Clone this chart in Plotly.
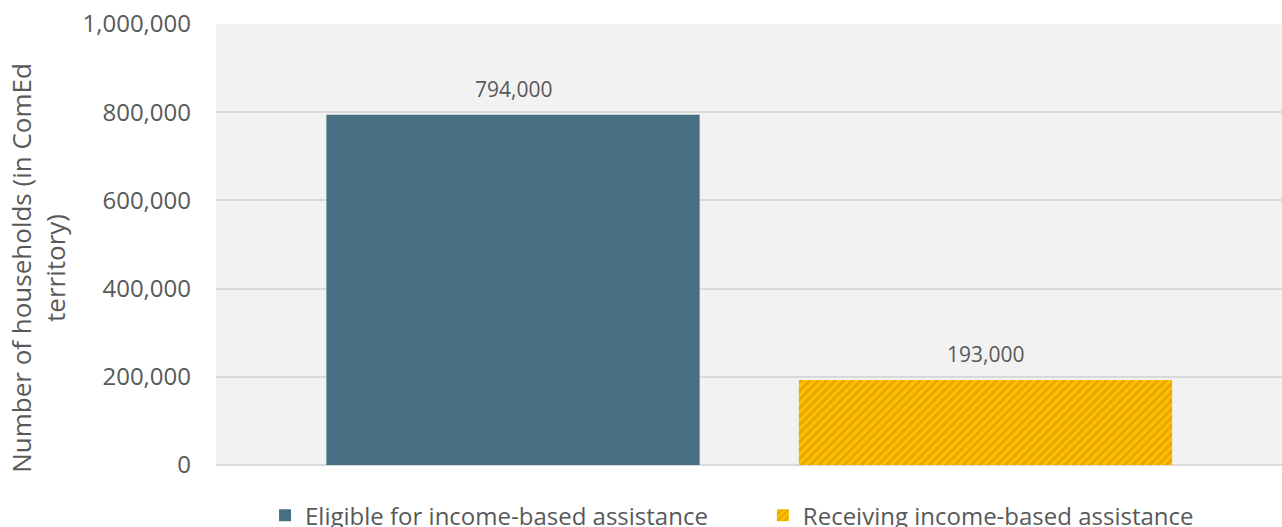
import plotly.graph_objects as go

# Households in ComEd territory by assistance status
categories = ["Eligible for income-based assistance", "Receiving income-based assistance"]
households = [794000, 193000]
value_labels = ["794,000", "193,000"]
y_ticks = [0, 200000, 400000, 600000, 800000, 1000000]
y_tick_text = ["0", "200,000", "400,000", "600,000", "800,000", "1,000,000"]
y_title = "Number of households (in ComEd<br>territory)"

TEXT = "#595959"
FONT = "Open Sans"

fig = go.Figure()

fig.add_trace(go.Bar(
    x=[categories[0]], y=[households[0]], name=categories[0],
    width=0.79, marker=dict(color="#466f82", line=dict(width=0)),
    legend="legend",
))
fig.add_trace(go.Bar(
    x=[categories[1]], y=[households[1]], name=categories[1],
    width=0.79,
    marker=dict(
        color="#ffc000",
        line=dict(width=0),
        pattern=dict(shape="/", fgcolor="#e3a600", bgcolor="#ffbf00",
                     size=6, solidity=0.45, fillmode="replace"),
    ),
    legend="legend2",
))

for cat, val, lab in zip(categories, households, value_labels):
    fig.add_annotation(x=cat, y=val, text=lab, showarrow=False,
                       yanchor="bottom", yshift=10,
                       font=dict(family=FONT, size=21, color=TEXT))

# rotated two-line axis title
fig.add_annotation(xref="paper", yref="paper", x=-0.167, y=0.447,
                   xanchor="center", yanchor="middle", textangle=-90,
                   text=y_title, showarrow=False,
                   font=dict(family=FONT, size=26, color=TEXT))

legend_style = dict(orientation="h", yanchor="top", xanchor="left", y=-0.064,
                    bgcolor="rgba(0,0,0,0)",
                    font=dict(family=FONT, size=24, color=TEXT))

fig.update_layout(
    width=1282, height=527,
    margin=dict(l=216, r=0, t=24, b=62, autoexpand=False),
    paper_bgcolor="white",
    plot_bgcolor="#f2f2f2",
    barmode="overlay",
    showlegend=True,
    legend=dict(x=0.046, **legend_style),
    legend2=dict(x=0.513, **legend_style),
    font=dict(family=FONT, color=TEXT),
)

fig.update_xaxes(
    type="category", range=[-0.6286, 1.6275],
    showticklabels=False, showgrid=False, zeroline=False, showline=False,
)
fig.update_yaxes(
    range=[0, 1000000], tickvals=y_ticks, ticktext=y_tick_text,
    showgrid=True, gridcolor="#d9d9d9", gridwidth=1.5,
    zeroline=True, zerolinecolor="#d9d9d9", zerolinewidth=1.5,
    showline=False, ticks="", ticklabelstandoff=24,
    tickfont=dict(family=FONT, size=24, color=TEXT),
)

fig.write_html("out.html")
